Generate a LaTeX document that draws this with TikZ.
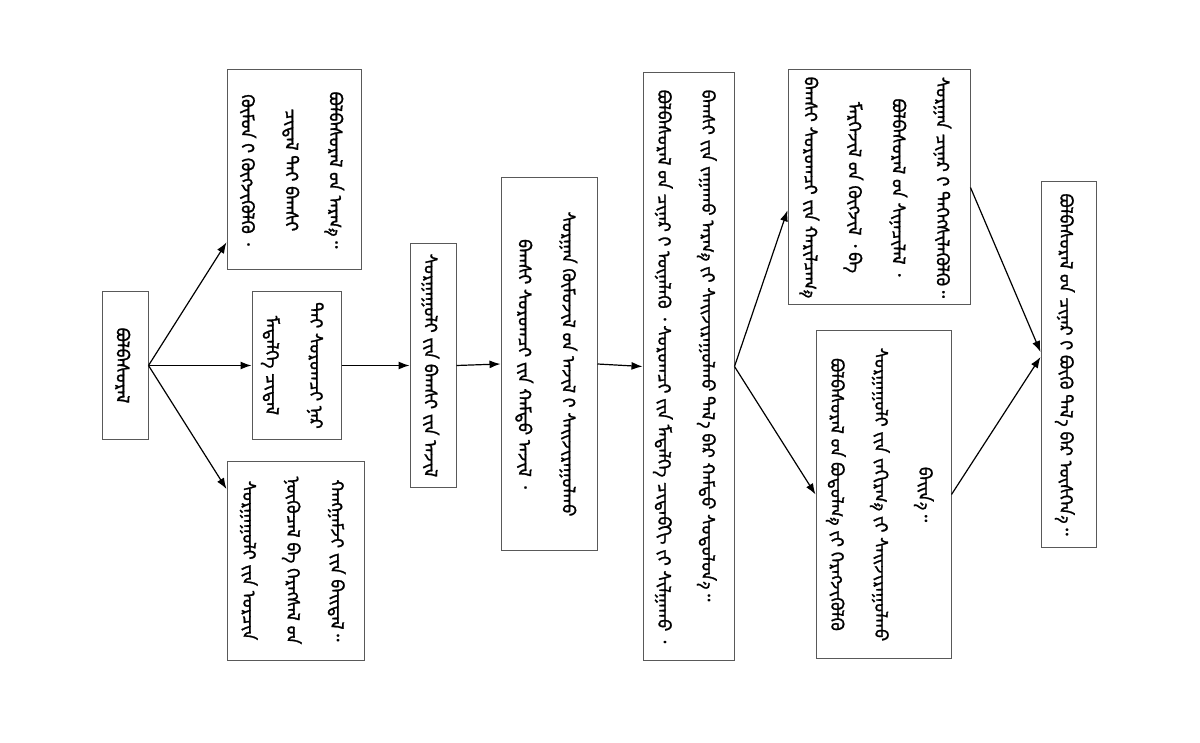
\documentclass[tikz,border=0pt]{standalone}
\usepackage{fontspec}
\usepackage{graphicx}
\usetikzlibrary{arrows.meta}
\IfFontExistsTF{Noto Sans Mongolian}
  {\newfontfamily\mnfont[Script=Mongolian,FakeBold=1.2]{Noto Sans Mongolian}}
  {\newfontfamily\mnfont{DejaVu Sans}}
\newcommand\nb{^^^^202f}
\newcommand\mvs{^^^^180e}
\newcommand\mn[2][c]{\rotatebox{-90}{\mnfont\bfseries\fontsize{9}{22}\selectfont
  \begin{tabular}{@{}#1@{}}#2\end{tabular}}}
\begin{document}
\begin{tikzpicture}
    [x=0.5pt, y=-0.5pt,
     box/.style = {draw=black!65, line width=0.5pt, inner sep=0pt},
     arr/.style = {-{Latex[length=5.5pt,width=4pt]}, line width=0.6pt}]
    \useasboundingbox (0,0) rectangle (1200,743);
    \node[box, minimum width=23pt, minimum height=73.5pt] (1) at (125,365.5)
        {\mn{ᠪᠣᠯᠪᠠᠰᠤᠷᠠᠯ}};
    \node[box, minimum width=67pt, minimum height=100pt] (2) at (294,170)
        {\mn{ᠪᠣᠯᠪᠠᠰᠤᠷᠠᠯ\nb ᠤᠨ ᠠᠷᠭ\mvs ᠠ᠃\\
             ᠴᠢᠳᠠᠯ\nb ᠲᠠᠢ ᠪᠠᠭᠰᠢ\\
             ᠬᠦᠮᠦᠨ\nb ᠢ ᠬᠥᠭᠵᠢᠭᠦᠯᠬᠦ ᠂}};
    \node[box, minimum width=44.5pt, minimum height=73.5pt] (3) at (296.5,365.5)
        {\mn{ᠲᠠᠢ ᠰᠤᠷᠤᠭᠴᠢ ᠨᠠᠷ\\
             ᠮᠡᠳᠡᠯᠭᠡ ᠴᠢᠳᠠᠯ}};
    \node[box, minimum width=68.5pt, minimum height=99.5pt] (4) at (295.5,560.5)
        {\mn{ᠬᠠᠩᠭᠠᠮᠵᠢ\nb ᠶᠢᠨ ᠪᠠᠢᠳᠠᠯ᠃\\
             ᠨᠥᠬᠦᠴᠡᠯ ᠪᠠ ᠬᠡᠷᠡᠭᠰᠡᠯ\nb ᠦᠨ\\
             ᠰᠤᠷᠭᠠᠭᠤᠯᠢ\nb ᠶᠢᠨ ᠣᠷᠴᠢᠨ}};
    \node[box, minimum width=23pt, minimum height=121.5pt] (5) at (433,365.5)
        {\mn{ᠰᠤᠷᠭᠠᠭᠤᠯᠢ\nb ᠶᠢᠨ ᠪᠠᠭᠰᠢ\nb ᠶᠢᠨ ᠠᠵᠢᠯ}};
    \node[box, minimum width=48pt, minimum height=186pt] (6) at (549,364)
        {\mn{ᠰᠤᠷᠭᠠᠨ ᠬᠦᠮᠦᠵᠢᠯ\nb ᠦᠨ ᠠᠵᠢᠯ\nb ᠢ ᠰᠠᠢᠵᠢᠷᠠᠭᠤᠯᠬᠤ\\
             ᠪᠠᠭᠰᠢ ᠰᠤᠷᠤᠭᠴᠢ\nb ᠶᠢᠨ ᠬᠠᠮᠲᠤ ᠠᠵᠢᠯ ᠂}};
    \node[box, minimum width=45.5pt, minimum height=293.5pt] (7) at (688.5,366.5)
        {\mn[l]{ᠪᠠᠭᠰᠢ\nb ᠶᠢᠨ ᠵᠠᠭᠠᠬᠤ ᠠᠷᠭ\mvs ᠠ\nb ᠶᠢ ᠰᠠᠢᠵᠢᠷᠠᠭᠤᠯᠬᠤ ᠲᠠᠯ\mvs ᠠ\nb ᠪᠠᠷ ᠬᠠᠮᠲᠤ ᠰᠤᠳᠤᠯᠤᠨ\mvs ᠠ᠃\\
             ᠪᠣᠯᠪᠠᠰᠤᠷᠠᠯ\nb ᠤᠨ ᠴᠢᠨᠠᠷ\nb ᠢ ᠦᠨᠡᠯᠡᠬᠦ ᠂ ᠰᠤᠷᠤᠭᠴᠢ\nb ᠶᠢᠨ ᠮᠡᠳᠡᠯᠭᠡ ᠴᠢᠳᠠᠪᠬᠢ\nb ᠶᠢ ᠰᠢᠯᠭᠠᠬᠤ ᠂}};
    \node[box, minimum width=91pt, minimum height=117.5pt] (8) at (879,187.5)
        {\mn{ᠰᠤᠷᠭᠠᠨ ᠴᠢᠨᠠᠷ\nb ᠢ ᠳᠡᠭᠡᠭᠰᠢᠯᠡᠭᠦᠯᠬᠦ᠃\\
             ᠪᠣᠯᠪᠠᠰᠤᠷᠠᠯ\nb ᠤᠨ ᠰᠢᠨᠡᠴᠢᠯᠡᠯ ᠂\\
             ᠮᠡᠷᠭᠡᠵᠢᠯ\nb ᠦᠨ ᠬᠥᠭᠵᠢᠯ ᠂ ᠪᠠ\\
             ᠪᠠᠭᠰᠢ ᠰᠤᠷᠤᠭᠴᠢ\nb ᠶᠢᠨ ᠬᠠᠷᠢᠯᠴᠠᠭ\mvs ᠠ}};
    \node[box, minimum width=67.5pt, minimum height=163.5pt] (9) at (883.5,494.5)
        {\mn{ᠪᠠᠢᠨ\mvs ᠠ᠃\\
             ᠰᠤᠷᠭᠠᠭᠤᠯᠢ\nb ᠶᠢᠨ ᠵᠠᠬᠢᠷᠭ\mvs ᠠ\nb ᠶᠢ ᠰᠠᠢᠵᠢᠷᠠᠭᠤᠯᠬᠤ\\
             ᠪᠣᠯᠪᠠᠰᠤᠷᠠᠯ\nb ᠤᠨ ᠪᠣᠳᠤᠯᠭ\mvs ᠠ\nb ᠶᠢ ᠬᠡᠷᠡᠭᠵᠢᠭᠦᠯᠬᠦ}};
    \node[box, minimum width=27.5pt, minimum height=182.5pt] (10) at (1068.5,364.5)
        {\mn{ᠪᠣᠯᠪᠠᠰᠤᠷᠠᠯ\nb ᠤᠨ ᠴᠢᠨᠠᠷ\nb ᠢ ᠪᠦᠬᠦ ᠲᠠᠯ\mvs ᠠ\nb ᠪᠠᠷ ᠥᠰᠬᠡᠨ\mvs ᠡ᠃}};
    \draw[arr] (1.east) -- (2.227);
    \draw[arr] (1.east) -- (3.west);
    \draw[arr] (1.east) -- (4.134);
    \draw[arr] (3.east) -- (5.west);
    \draw[arr] (5.east) -- (6.west);
    \draw[arr] (6.east) -- (7.west);
    \draw[arr] (7.east) -- (8.194);
    \draw[arr] (7.east) -- (9.west);
    \draw[arr] (8.east) -- (10.156);
    \draw[arr] (9.east) -- (10.165);
\end{tikzpicture}
\end{document}
